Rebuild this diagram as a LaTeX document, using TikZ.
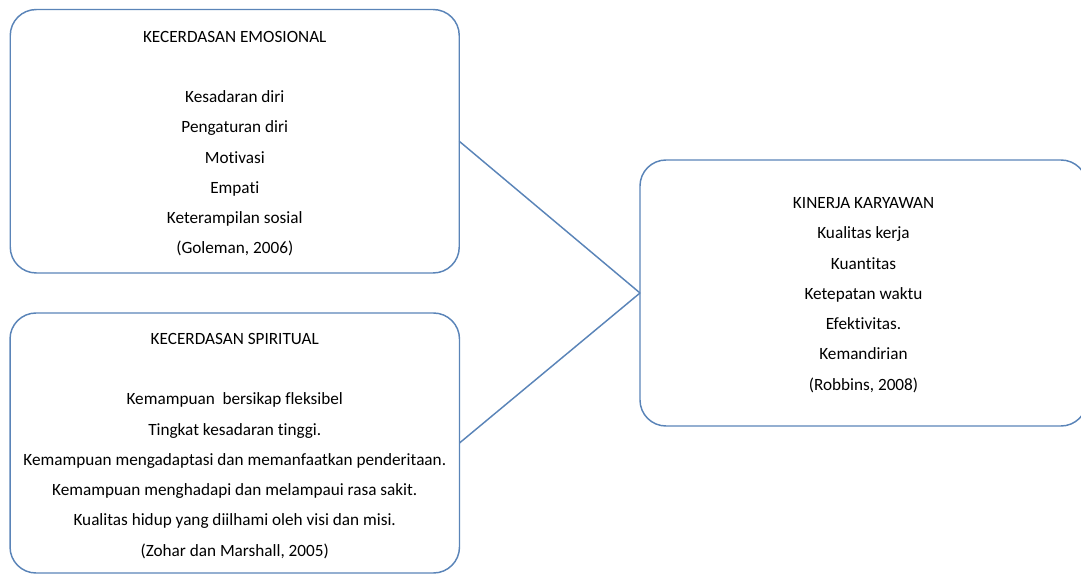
\documentclass[tikz,border=0pt]{standalone}
\usepackage{fontspec}
\setmainfont{Carlito}[RawFeature={-liga}]
\definecolor{boxblue}{HTML}{5A84B8}
\begin{document}
\begin{tikzpicture}[x=0.75pt,y=-0.75pt,
  box/.style={draw=boxblue,line width=1.1pt,rounded corners=19.5pt,inner sep=0pt,outer sep=0pt},
  txt/.style={align=center,inner sep=0pt,font=\fontsize{12.9}{22.7}\selectfont,text=black},
  link/.style={draw=boxblue,line width=1.1pt}]
\useasboundingbox (0,0) rectangle (1081,574);
\node[box,minimum width=336.75pt,minimum height=197.6pt] (emo) at (234.75,141.25) {};
\node[txt] (emotext) at ([yshift=-1.8pt]emo.center)
  {KECERDASAN EMOSIONAL\\[22.7pt]
   Kesadaran diri\\ Pengaturan diri\\ Motivasi\\ Empati\\ Keterampilan sosial\\ (Goleman, 2006)};
\node[box,minimum width=337.1pt,minimum height=195pt] (spi) at (234.75,443) {};
\node[txt] (spitext) at ([yshift=-2.2pt]spi.center)
  {KECERDASAN SPIRITUAL\\[22.7pt]
   Kemampuan\ \ bersikap fleksibel\\ Tingkat kesadaran tinggi.\\
   Kemampuan mengadaptasi dan memanfaatkan penderitaan.\\
   Kemampuan menghadapi dan melampaui rasa sakit.\\
   Kualitas hidup yang diilhami oleh visi dan misi.\\
   (Zohar dan Marshall, 2005)};
\node[box,minimum width=335.25pt,minimum height=199.5pt] (kin) at (863.5,293) {};
\node[txt] (kintext) at ([yshift=-1.6pt]kin.center)
  {KINERJA KARYAWAN\\ Kualitas kerja\\ Kuantitas\\ Ketepatan waktu\\ Efektivitas.\\ Kemandirian\\ (Robbins, 2008)};
\draw[link] (emo.east) -- (kin.west);
\draw[link] (spi.east) -- (kin.west);
\end{tikzpicture}
\end{document}
